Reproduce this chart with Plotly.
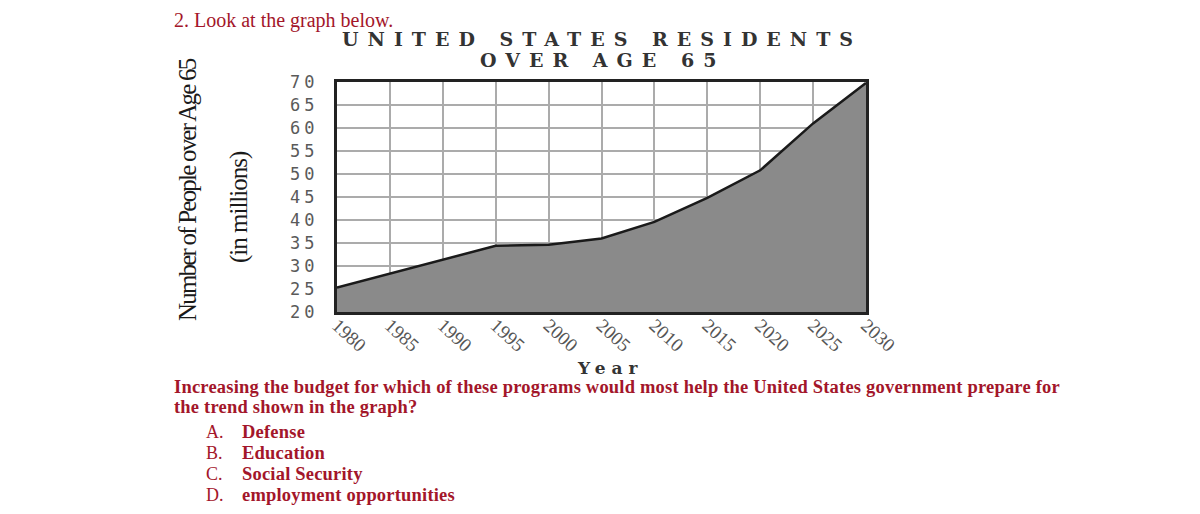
import plotly.graph_objects as go

years = [1980, 1985, 1990, 1995, 2000, 2005, 2010, 2015, 2020, 2025, 2030]
residents_65 = [25.3, 28.3, 31.3, 34.4, 34.6, 36.0, 39.6, 44.8, 50.8, 61.0, 69.8]
y_ticks = [20, 25, 30, 35, 40, 45, 50, 55, 60, 65, 70]
x_ticks = years

title_lines = ["UNITED STATES RESIDENTS", "OVER AGE 65"]
question_intro = "2. Look at the graph below."
question_lines = [
    "Increasing the budget for which of these programs would most help the United States government prepare for",
    "the trend shown in the graph?",
]
option_letters = ["A.", "B.", "C.", "D."]
option_texts = ["Defense", "Education", "Social Security", "employment opportunities"]

RED = "#a3162a"
SERIF = "Liberation Serif, Times New Roman, serif"

# page offset (html body margin)
OFF = 8
W, H = 1200, 514
# desired plot edges on the screenshot
PL, PR, PT, PB = 337, 866, 82, 312
ML, MR, MT, MB = PL - OFF, W - (PR - OFF), PT - OFF, H - (PB - OFF)

fig = go.Figure()
fig.add_trace(go.Scatter(
    x=years, y=residents_65, mode="lines", fill="tozeroy",
    fillcolor="#8a8a8a", line=dict(color="#1a1a1a", width=2.5),
    hoverinfo="x+y", showlegend=False,
))

fig.update_layout(
    width=W, height=H,
    margin=dict(l=ML, r=MR, t=MT, b=MB),
    paper_bgcolor="white", plot_bgcolor="white",
    xaxis=dict(
        range=[1980, 2030], tickvals=x_ticks,
        ticktext=[str(v) for v in x_ticks], tickangle=42,
        tickfont=dict(family=SERIF, size=19, color="#555"),
        showgrid=True, gridcolor="#ababab", gridwidth=2,
        showline=True, linecolor="#222", linewidth=3, mirror=True,
        ticks="", ticklabelstandoff=-8,
        zeroline=False, fixedrange=True,
    ),
    yaxis=dict(
        range=[20, 70], tickvals=y_ticks,
        ticktext=[f'<span style="letter-spacing:4px">{v}</span>' for v in y_ticks],
        tickfont=dict(family="DejaVu Sans Mono, Liberation Mono, monospace", size=17, color="#5a5a5a"),
        showgrid=True, gridcolor="#ababab", gridwidth=2,
        showline=True, linecolor="#222", linewidth=3, mirror=True,
        ticks="outside", ticklen=12, tickcolor="rgba(0,0,0,0)",
        zeroline=False, fixedrange=True,
    ),
)

ann = []
ann.append(dict(x=172, y=21, text=question_intro, font=dict(family=SERIF, size=20, color=RED),
                xanchor="left", yanchor="middle"))
for i, t in enumerate(title_lines):
    ann.append(dict(x=602, y=39 + i * 21,
                    text=f'<span style="letter-spacing:9px">{t}</span>',
                    font=dict(family="DejaVu Serif, serif", size=19, color="#333", weight="bold"),
                    xanchor="center", yanchor="middle"))
ann.append(dict(x=187, y=190, text='<span style="letter-spacing:-1.8px">Number of People over Age 65</span>',
                textangle=-90, font=dict(family=SERIF, size=25, color="#1a1a1a"),
                xanchor="center", yanchor="middle"))
ann.append(dict(x=239, y=207, text='<span style="letter-spacing:-1px">(in millions)</span>',
                textangle=-90, font=dict(family=SERIF, size=25, color="#1a1a1a"),
                xanchor="center", yanchor="middle"))
ann.append(dict(x=610, y=368, text='<span style="letter-spacing:6px">Year</span>',
                font=dict(family="DejaVu Serif, serif", size=17, color="#333", weight="bold"),
                xanchor="center", yanchor="middle"))
for i, t in enumerate(question_lines):
    ann.append(dict(x=172, y=387 + i * 20, text=f'<span style="letter-spacing:0.2px">{t}</span>',
                    font=dict(family=SERIF, size=18.5, color=RED, weight="bold"),
                    xanchor="left", yanchor="middle"))
option_y = [432, 453, 474, 495]
for yy, l, t in zip(option_y, option_letters, option_texts):
    ann.append(dict(x=204, y=yy, text=l, font=dict(family=SERIF, size=18, color=RED),
                    xanchor="left", yanchor="middle"))
    ann.append(dict(x=240, y=yy, text=f'<span style="letter-spacing:0.2px">{t}</span>',
                    font=dict(family=SERIF, size=18.5, color=RED, weight="bold"),
                    xanchor="left", yanchor="middle"))

pw = W - ML - MR
ph = H - MT - MB
for a in ann:
    a.update(xref="paper", yref="paper", showarrow=False)
    px = a["x"] - OFF
    py = a["y"] - OFF
    a["x"] = (px - ML) / pw
    a["y"] = (H - MB - py) / ph

fig.update_layout(annotations=ann)
fig.write_html("out.html")
